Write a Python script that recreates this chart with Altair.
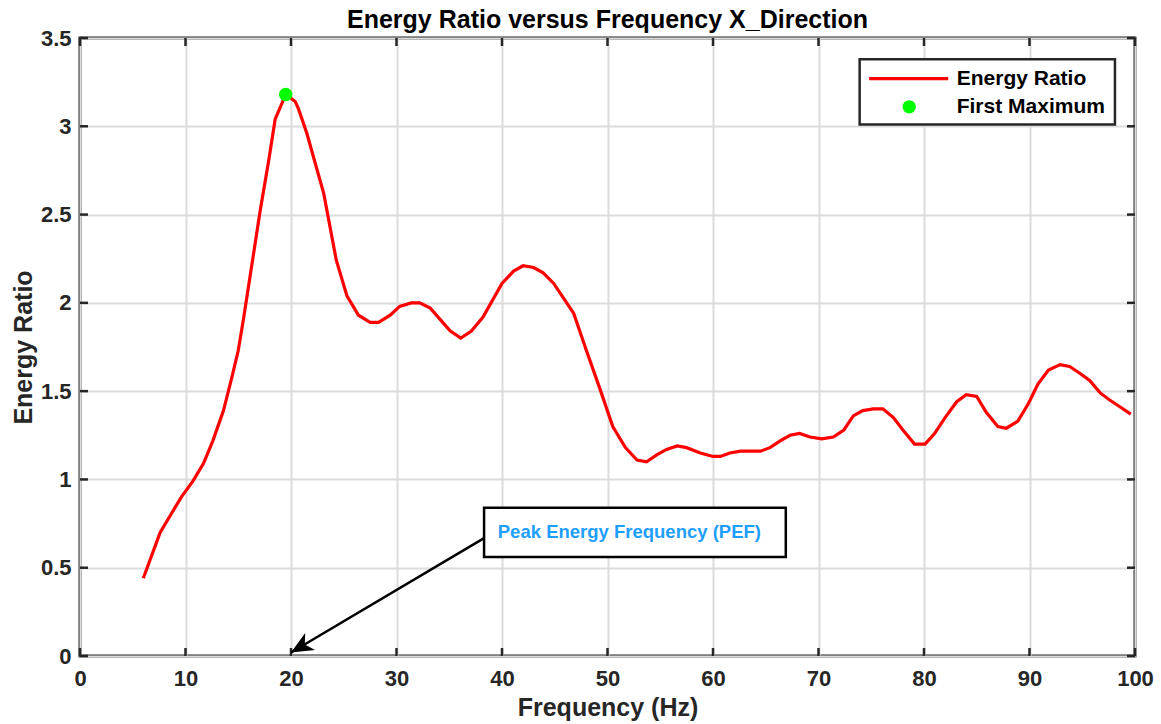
import altair as alt
import pandas as pd

# ---- data ----
freq = [6.0, 7.6, 8.7, 9.6, 10.7, 11.7, 12.6, 13.6, 14.4, 15.0, 15.5, 17.1, 17.9, 18.5, 19.5,
        20.4, 20.7, 21.5, 23.1, 24.3, 25.3, 26.4, 27.5, 28.3, 29.4, 30.3, 31.4, 32.2, 33.2,
        35.1, 36.1, 37.1, 38.2, 40.0, 41.1, 42.0, 43.0, 43.9, 44.9, 45.8, 46.8, 48.0, 49.3,
        50.5, 51.7, 52.8, 53.7, 54.7, 55.6, 56.6, 57.5, 58.8, 60.0, 60.7, 61.6, 62.6, 63.7,
        64.5, 65.4, 66.4, 67.3, 68.2, 69.2, 70.3, 71.4, 72.4, 73.3, 74.2, 75.2, 76.1, 77.1,
        78.0, 79.1, 80.1, 81.0, 82.0, 83.1, 84.0, 85.0, 85.9, 87.0, 87.8, 88.9, 89.9, 90.8,
        91.8, 92.9, 93.8, 94.8, 95.7, 96.7, 97.6, 98.6, 99.6]
ratio = [0.44, 0.70, 0.81, 0.90, 0.99, 1.09, 1.22, 1.39, 1.58, 1.73, 1.91, 2.53, 2.81, 3.04, 3.18,
         3.14, 3.10, 2.96, 2.62, 2.24, 2.04, 1.93, 1.89, 1.89, 1.93, 1.98, 2.00, 2.00, 1.97,
         1.84, 1.80, 1.84, 1.92, 2.11, 2.18, 2.21, 2.20, 2.17, 2.11, 2.03, 1.94, 1.73, 1.51,
         1.30, 1.18, 1.11, 1.10, 1.14, 1.17, 1.19, 1.18, 1.15, 1.13, 1.13, 1.15, 1.16, 1.16,
         1.16, 1.18, 1.22, 1.25, 1.26, 1.24, 1.23, 1.24, 1.28, 1.36, 1.39, 1.40, 1.40, 1.35,
         1.28, 1.20, 1.20, 1.26, 1.35, 1.44, 1.48, 1.47, 1.38, 1.30, 1.29, 1.33, 1.43, 1.54,
         1.62, 1.65, 1.64, 1.60, 1.56, 1.49, 1.45, 1.41, 1.37]

peak_freq = [19.5]
peak_ratio = [3.18]

x_ticks = [0, 10, 20, 30, 40, 50, 60, 70, 80, 90, 100]
y_ticks = [0, 0.5, 1, 1.5, 2, 2.5, 3, 3.5]

title_text = "Energy Ratio versus Frequency X_Direction"
x_title = "Frequency (Hz)"
y_title = "Energy Ratio"
legend_labels = ["Energy Ratio", "First Maximum"]
annot_text = "Peak Energy Frequency (PEF)"

# annotation geometry (data units)
annot_box_x = [38.3, 66.9]
annot_box_y = [0.56, 0.84]
arrow_start = [38.3, 0.668]
arrow_end = [20.0, 0.02]

# legend geometry (data units)
leg_box_x = [73.9, 98.1]
leg_box_y = [3.01, 3.38]
leg_line_x = [74.8, 82.3]
leg_row_y = [3.27, 3.11]
leg_dot_x = [78.6]
leg_text_x = [83.1]

FONT = "Liberation Sans"
DARK = "#262626"

xs = alt.Scale(domain=[0, 100], nice=False, zero=False)
ys = alt.Scale(domain=[0, 3.5], nice=False, zero=False)
xaxis = alt.Axis(values=x_ticks, title=x_title, format="d", labelFlush=False)
yaxis = alt.Axis(values=y_ticks, title=y_title, format="~g", labelFlush=False)


def X(field):
    return alt.X(field, type="quantitative", scale=xs, axis=xaxis)


def Y(field):
    return alt.Y(field, type="quantitative", scale=ys, axis=yaxis)


line_df = pd.DataFrame({"f": freq, "r": ratio})

line = alt.Chart(line_df).mark_line(color="#ff0000", strokeWidth=3.2).encode(
    x=X("f"), y=Y("r"))

peak = alt.Chart(pd.DataFrame({"f": peak_freq, "r": peak_ratio})).mark_point(
    filled=True, color="#00ff00", size=180, opacity=1, shape="circle"
).encode(x=X("f"), y=Y("r"))

# inward ticks on all four sides
tx = 100 * 8 / 1055
ty = 3.5 * 8 / 618
bt = pd.DataFrame({"f": x_ticks, "r": 0.0, "r2": ty})
tt = pd.DataFrame({"f": x_ticks, "r": 3.5, "r2": 3.5 - ty})
lt = pd.DataFrame({"r": y_ticks, "f": 0.0, "f2": tx})
rt = pd.DataFrame({"r": y_ticks, "f": 100.0, "f2": 100 - tx})


def vticks(df):
    return alt.Chart(df).mark_rule(color=DARK, strokeWidth=2.5).encode(
        x=X("f"), y=Y("r"), y2="r2:Q")


def hticks(df):
    return alt.Chart(df).mark_rule(color=DARK, strokeWidth=2.5).encode(
        y=Y("r"), x=X("f"), x2="f2:Q")


ticks = vticks(bt) + vticks(tt) + hticks(lt) + hticks(rt)

# annotation
arrow_df = pd.DataFrame({"f": [arrow_start[0]], "r": [arrow_start[1]],
                         "f2": [arrow_end[0]], "r2": [arrow_end[1]]})
arrow_line = alt.Chart(arrow_df).mark_rule(color="black", strokeWidth=2.5).encode(
    x=X("f"), y=Y("r"), x2="f2:Q", y2="r2:Q")
head = alt.Chart(pd.DataFrame({"f": [arrow_end[0]], "r": [arrow_end[1]]})).mark_point(
    shape="M0,0 L0.8,1.8 L0,1.3 L-0.8,1.8 Z", filled=True, color="black", opacity=1,
    size=600, angle=240
).encode(x=X("f"), y=Y("r"))

box_df = pd.DataFrame({"f": [annot_box_x[0]], "f2": [annot_box_x[1]],
                       "r": [annot_box_y[0]], "r2": [annot_box_y[1]]})
annot_box = alt.Chart(box_df).mark_rect(fill="white", stroke="black", strokeWidth=2.5).encode(
    x=X("f"), x2="f2:Q", y=Y("r"), y2="r2:Q")
annot_txt = alt.Chart(pd.DataFrame({"f": [annot_box_x[0] + 1.3],
                                    "r": [(annot_box_y[0] + annot_box_y[1]) / 2],
                                    "t": [annot_text]})).mark_text(
    align="left", baseline="middle", font=FONT, fontWeight="bold", fontSize=18.5,
    color="#1e9eff"
).encode(x=X("f"), y=Y("r"), text="t:N")

# legend
leg_box_df = pd.DataFrame({"f": [leg_box_x[0]], "f2": [leg_box_x[1]],
                           "r": [leg_box_y[0]], "r2": [leg_box_y[1]]})
leg_box = alt.Chart(leg_box_df).mark_rect(fill="white", stroke=DARK, strokeWidth=2.5).encode(
    x=X("f"), x2="f2:Q", y=Y("r"), y2="r2:Q")
leg_line = alt.Chart(pd.DataFrame({"f": [leg_line_x[0]], "f2": [leg_line_x[1]],
                                   "r": [leg_row_y[0]]})).mark_rule(
    color="#ff0000", strokeWidth=3.2).encode(x=X("f"), x2="f2:Q", y=Y("r"))
leg_dot = alt.Chart(pd.DataFrame({"f": leg_dot_x, "r": [leg_row_y[1]]})).mark_point(
    filled=True, color="#00ff00", size=180, opacity=1, shape="circle"
).encode(x=X("f"), y=Y("r"))
leg_txt = alt.Chart(pd.DataFrame({"f": leg_text_x * 2, "r": leg_row_y, "t": legend_labels})).mark_text(
    align="left", baseline="middle", font=FONT, fontWeight="bold", fontSize=21, color="black"
).encode(x=X("f"), y=Y("r"), text="t:N")

chart = alt.layer(
    line, ticks, arrow_line, head, annot_box, annot_txt, peak,
    leg_box, leg_line, leg_dot, leg_txt
).properties(
    width=1055, height=618,
    background="white",
    title=alt.TitleParams(title_text, font=FONT, fontSize=25, fontWeight="bold",
                          color="black", anchor="middle", offset=4, frame="group", dy=10),
    autosize=alt.AutoSizeParams(type="none"),
    padding={"left": 80, "top": 38, "right": 26, "bottom": 68},
).configure_view(
    stroke=DARK, strokeWidth=3
).configure_axis(
    grid=True, gridColor="#dcdcdc", gridWidth=2, gridOpacity=1,
    domain=False, ticks=False, tickSize=0,
    labelFont=FONT, labelFontWeight="bold", labelFontSize=22, labelColor=DARK,
    titleFont=FONT, titleFontWeight="bold", titleFontSize=25, titleColor=DARK,
).configure_axisX(
    labelPadding=12, titlePadding=6
).configure_axisY(
    labelPadding=9, titlePadding=4
)

chart.save("out.html", embed_options={"renderer": "svg", "actions": False})
